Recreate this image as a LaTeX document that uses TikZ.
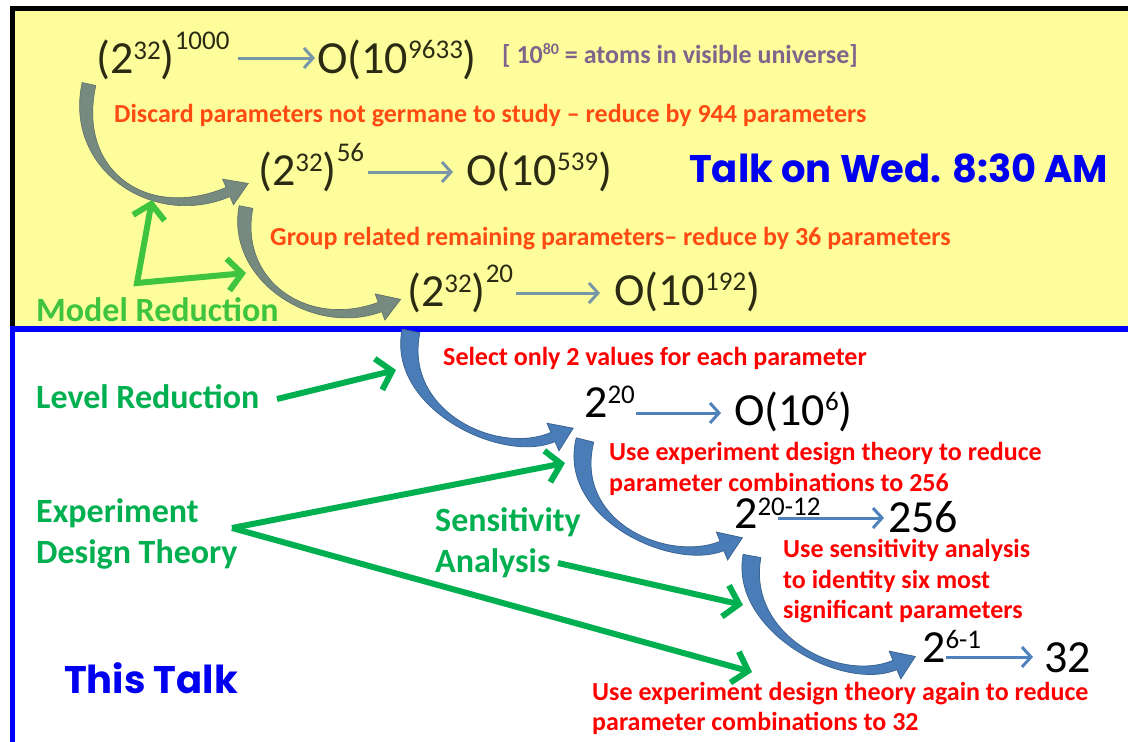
\documentclass[tikz,border=0pt]{standalone}
\usepackage{fontspec}
\setmainfont{Carlito}
\newfontfamily\comicf{Poppins}
\usetikzlibrary{calc,arrows.meta}
\definecolor{ylw}{HTML}{FDFD9C}
\definecolor{numdk}{HTML}{2B2B14}
\definecolor{orng}{HTML}{FF4A12}
\definecolor{purp}{HTML}{80648A}
\definecolor{lgrn}{HTML}{3EC43E}
\definecolor{dgrn}{HTML}{00B050}
\definecolor{rred}{HTML}{FF0000}
\definecolor{bblue}{HTML}{0000F0}
\definecolor{arrb}{HTML}{4A7DB8}
\definecolor{arrbd}{HTML}{3A6494}
\definecolor{arrg}{HTML}{768A80}
\definecolor{arrgd}{HTML}{5E7068}
\definecolor{harrg}{HTML}{7896A8}
\definecolor{harrb}{HTML}{4F81BD}
\newcommand\FS[1]{\fontsize{#1}{#1}\selectfont}
\newcommand\upx[3]{\raisebox{#1pt}{\FS{#2}#3}}
\newcommand\carrow[9]{%
 \coordinate (qS) at #1; \coordinate (qA) at #2; \coordinate (qB) at #3; \coordinate (qE) at #4;
 \coordinate (qSL) at ($(qS)!#5!90:(qA)$);
 \coordinate (qSR) at ($(qS)!#5!-90:(qA)$);
 \coordinate (qEL) at ($(qE)!#6!-90:(qB)$);
 \coordinate (qER) at ($(qE)!#6!90:(qB)$);
 \coordinate (qAL) at ($(qA)+(qSL)-(qS)$);
 \coordinate (qAR) at ($(qA)+(qSR)-(qS)$);
 \coordinate (qBL) at ($(qB)+(qEL)-(qE)$);
 \coordinate (qBR) at ($(qB)+(qER)-(qE)$);
 \coordinate (qHL) at ($(qE)!#7!-90:(qB)$);
 \coordinate (qHR) at ($(qE)!#7!90:(qB)$);
 \coordinate (qT) at ($(qE)!-#8!(qB)$);
 \path[#9] (qSL) .. controls (qAL) and (qBL) .. (qEL) -- (qHL) -- (qT) -- (qHR) -- (qER) .. controls (qBR) and (qAR) .. (qSR) -- cycle;
}
\tikzset{
 txt/.style={inner sep=0pt, anchor=base west},
 topnum/.style={txt, font=\FS{46}, text=numdk},
 botnum/.style={txt, font=\FS{46}, text=black},
 toplbl/.style={txt, font=\bfseries\FS{26}, text=orng},
 redlbl/.style={txt, font=\bfseries\FS{26}, text=rred},
 grnlbl/.style={txt, font=\bfseries\FS{34}, text=dgrn},
 talklbl/.style={txt, font=\comicf\bfseries\FS{38.5}, text=bblue},
 greyband/.style={fill=arrg, draw=arrgd, line width=0.6pt},
 blueband/.style={fill=arrb, draw=arrbd, line width=0.8pt},
 harrow/.style={line width=3pt, -{Straight Barb[length=9pt,width=20pt]}},
 garrow/.style={draw=dgrn, line width=6pt, -{Straight Barb[length=14pt,width=32pt]}},
}
\begin{document}
\begin{tikzpicture}[x=1pt,y=-1pt]
\useasboundingbox (0,0) rectangle (1128,742);
\fill[white] (0,0) rectangle (1128,742);
% top panel
\fill[ylw] (15,11) rectangle (1128,326);
\fill[black] (10,6) rectangle (1128,11);
\fill[black] (10,6) rectangle (15,326);
% grey curved arrows
\carrow{(89,84)}{(70,170)}{(150,225)}{(228,192)}{7pt}{5pt}{14pt}{22pt}{greyband}
\carrow{(246,207)}{(232,280)}{(310,333)}{(380,307)}{7pt}{5pt}{14pt}{22pt}{greyband}
% top texts
\node[topnum] (r1a) at (96,73) {(2\upx{14}{27}{32})\upx{24}{27}{1000}};
\node[topnum] (r1b) at (317,73) {O(10\upx{15}{27}{9633})};
\node[txt, font=\bfseries\FS{26}, text=purp] (r1c) at (502,63) {[ 10\upx{9}{16}{80} = atoms in visible universe]};
\node[toplbl] (l1) at (114,122) {Discard parameters not germane to study – reduce by 944 parameters};
\node[topnum] (r2a) at (258,185) {(2\upx{14}{27}{32})\upx{24}{27}{56}};
\node[topnum] (r2b) at (466,185) {O(10\upx{15}{27}{539})};
\node[talklbl] (talk) at (689,182) {Talk on Wed. 8:30 AM};
\node[toplbl] (l2) at (270,245) {Group related remaining parameters– reduce by 36 parameters};
\node[topnum] (r3a) at (407,306) {(2\upx{14}{27}{32})\upx{24}{27}{20}};
\node[topnum] (r3b) at (614,305) {O(10\upx{15}{27}{192})};
\node[txt, font=\bfseries\FS{34}, text=lgrn] (mred) at (36,321) {Model Reduction};
% top horizontal arrows
\coordinate (h1s) at (238,58); \coordinate (h1e) at (315,58);
\coordinate (h2s) at (368,172); \coordinate (h2e) at (453,172);
\coordinate (h3s) at (516,293); \coordinate (h3e) at (600,293);
\draw[harrow, draw=harrg] (h1s) -- (h1e);
\draw[harrow, draw=harrg] (h2s) -- (h2e);
\draw[harrow, draw=harrg] (h3s) -- (h3e);
% L-shaped green arrow
\coordinate (lup) at (152,200); \coordinate (lcorner) at (137,283); \coordinate (lright) at (246,273);
\draw[draw=lgrn, line width=6pt, line join=miter, {Straight Barb[length=14pt,width=32pt]}-{Straight Barb[length=14pt,width=32pt]}] (lup) -- (lcorner) -- (lright);
% bottom panel borders
\fill[blue] (10,326) rectangle (1128,332);
\fill[blue] (10,326) rectangle (15,742);
% blue curved arrows
\carrow{(411,331)}{(395,410)}{(500,460)}{(553,437)}{9pt}{5pt}{15pt}{22pt}{blueband}
\carrow{(585,440)}{(565,520)}{(670,567)}{(722,546)}{9pt}{5pt}{15pt}{22pt}{blueband}
\carrow{(752,556)}{(738,632)}{(840,688)}{(895,665)}{9pt}{5pt}{15pt}{22pt}{blueband}
% bottom texts
\node[redlbl] (sel) at (443,365) {Select only 2 values for each parameter};
\node[grnlbl] (lvl) at (36,408) {Level Reduction};
\node[grnlbl] (exp1) at (36,522) {Experiment};
\node[grnlbl] (exp2) at (36,563) {Design Theory};
\node[grnlbl] (sen1) at (435,531) {Sensitivity};
\node[grnlbl] (sen2) at (435,572) {Analysis};
\node[talklbl] (thistalk) at (64,693) {This Talk};
\node[botnum] (b1a) at (584,417) {2\upx{14}{27}{20}};
\node[botnum] (b1b) at (734,425) {O(10\upx{15}{27}{6})};
\node[redlbl] (u1a) at (609,460) {Use experiment design theory to reduce};
\node[redlbl] (u1b) at (609,491) {parameter combinations to 256};
\node[botnum] (b2a) at (734,528) {2\upx{13}{27}{20-12}};
\node[botnum] (b2b) at (888,532) {256};
\node[redlbl] (u2a) at (783,557) {Use sensitivity analysis};
\node[redlbl] (u2b) at (783,588) {to identity six most};
\node[redlbl] (u2c) at (783,618) {significant parameters};
\node[botnum] (b3a) at (922,662) {2\upx{14}{27}{6-1}};
\node[botnum] (b3b) at (1044,672) {32};
\node[redlbl] (u3a) at (592,700) {Use experiment design theory again to reduce};
\node[redlbl] (u3b) at (592,730) {parameter combinations to 32};
% bottom horizontal arrows
\coordinate (k1s) at (636,413); \coordinate (k1e) at (721,413);
\coordinate (k2s) at (778,518); \coordinate (k2e) at (884,518);
\coordinate (k3s) at (946,657); \coordinate (k3e) at (1033,657);
\draw[harrow, draw=harrb] (k1s) -- (k1e);
\draw[harrow, draw=harrb] (k2s) -- (k2e);
\draw[harrow, draw=harrb] (k3s) -- (k3e);
% green arrows
\coordinate (g1s) at (277,399); \coordinate (g1e) at (396,370);
\coordinate (apex) at (232,528); \coordinate (g2e) at (565,463); \coordinate (g3e) at (752,672);
\coordinate (g4s) at (558,563); \coordinate (g4e) at (743,605);
\draw[garrow] (g1s) -- (g1e);
\draw[garrow] (apex) -- (g2e);
\draw[garrow] (apex) -- (g3e);
\draw[garrow] (g4s) -- (g4e);
\end{tikzpicture}
\end{document}
